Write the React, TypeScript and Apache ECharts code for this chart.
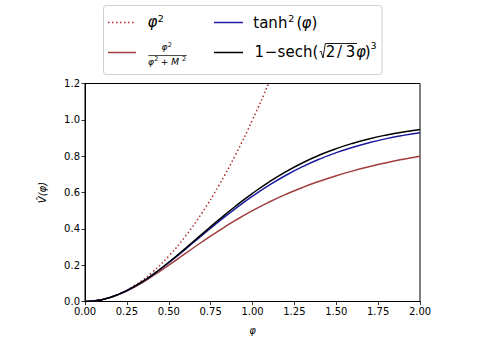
import React, { useEffect, useRef } from "react";
import * as echarts from "echarts";

const phi = [0, 0.1, 0.2, 0.3, 0.4, 0.5, 0.6, 0.7, 0.8, 0.9, 1.0, 1.1, 1.2, 1.3, 1.4, 1.5, 1.6, 1.7, 1.8, 1.9, 2.0];
const phiSquared = [0, 0.01, 0.04, 0.09, 0.16, 0.25, 0.36, 0.49, 0.64, 0.81, 1.0, 1.21, 1.44];
const fracSeries = [0, 0.0099, 0.0385, 0.0826, 0.1379, 0.2, 0.2647, 0.3289, 0.3902, 0.4475, 0.5, 0.5475, 0.5902, 0.6283, 0.6622, 0.6923, 0.7191, 0.7429, 0.7642, 0.7831, 0.8];
const tanhSeries = [0, 0.0099, 0.039, 0.0849, 0.1444, 0.2136, 0.2884, 0.3653, 0.441, 0.5131, 0.58, 0.6408, 0.695, 0.7426, 0.7839, 0.8193, 0.8495, 0.875, 0.8965, 0.9144, 0.9294];
const sechSeries = [0, 0.0099, 0.039, 0.0853, 0.1455, 0.216, 0.2928, 0.3721, 0.4507, 0.5258, 0.5956, 0.6589, 0.715, 0.764, 0.8061, 0.8417, 0.8715, 0.8963, 0.9166, 0.9332, 0.9465];
const xTicks = { min: 0, max: 2, interval: 0.25 };
const yTicks = { min: 0, max: 1.2, interval: 0.2 };

const FONT = "DejaVu Sans";
const RED = "#b22a2a";
const BROWN = "#a03c3c";
const BLUE = "#1a1aa0";
const BLACK = "#000000";

const pairs = (ys: number[]) => ys.map((y, i) => [phi[i], y]);

const txt = (text: string, x: number, y: number, size: number, italic = false, align = "left") => ({
  type: "text",
  x,
  y,
  z: 11,
  style: {
    text,
    font: `${italic ? "italic " : ""}${size}px "${FONT}"`,
    fill: "#000",
    align,
    verticalAlign: "middle",
  },
});

export default function App() {
  const ref = useRef<HTMLDivElement>(null);
  useEffect(() => {
    document.body.style.margin = "0";
    const chart = echarts.init(ref.current!, null, { renderer: "svg" });
    const axisCommon = {
      axisLine: { show: true, lineStyle: { color: "#000", width: 1 } },
      axisTick: { show: true, inside: false, length: 3.5, lineStyle: { color: "#000", width: 0.8 } },
      axisLabel: { color: "#000", fontFamily: FONT, fontSize: 10, margin: 5 },
      splitLine: { show: false },
    };
    chart.setOption({
      animation: false,
      backgroundColor: "#fff",
      grid: { left: 85, right: 58, top: 83.5, bottom: 42.5, show: true, borderColor: "#000", borderWidth: 1, backgroundColor: "transparent" },
      xAxis: {
        type: "value",
        ...xTicks,
        ...axisCommon,
        axisLabel: { ...axisCommon.axisLabel, formatter: (v: number) => v.toFixed(2) },
        name: "φ",
        nameLocation: "middle",
        nameGap: 24,
        nameTextStyle: { color: "#000", fontFamily: FONT, fontSize: 10, fontStyle: "italic" },
      },
      yAxis: {
        type: "value",
        ...yTicks,
        ...axisCommon,
        axisLabel: { ...axisCommon.axisLabel, formatter: (v: number) => v.toFixed(1) },
        name: "V\u0302(φ)",
        nameLocation: "middle",
        nameGap: 38,
        nameTextStyle: { color: "#000", fontFamily: FONT, fontSize: 10, fontStyle: "italic" },
      },
      series: [
        { type: "line", data: pairs(phiSquared), smooth: true, symbol: "none", clip: true, lineStyle: { color: RED, width: 1.5, type: [1.5, 2.5] } },
        { type: "line", data: pairs(fracSeries), smooth: true, symbol: "none", lineStyle: { color: BROWN, width: 1.5 } },
        { type: "line", data: pairs(tanhSeries), smooth: true, symbol: "none", lineStyle: { color: BLUE, width: 1.5 } },
        { type: "line", data: pairs(sechSeries), smooth: true, symbol: "none", lineStyle: { color: BLACK, width: 1.5 } },
      ],
      graphic: [
        { type: "rect", shape: { x: 103.5, y: 5.5, width: 278.5, height: 69, r: 3 }, style: { fill: "#fff", stroke: "#d0d0d0", lineWidth: 1 }, z: 10 },
        // row 1, col 1: phi^2
        { type: "line", shape: { x1: 108, y1: 22.5, x2: 136, y2: 22.5 }, style: { stroke: RED, lineWidth: 1.5, lineDash: [1.5, 2.5] }, z: 11 },
        txt("φ", 147.5, 21.5, 15, true),
        txt("2", 157.8, 18.5, 9.5),
        // row 2, col 1: fraction
        { type: "line", shape: { x1: 108, y1: 52.5, x2: 136, y2: 52.5 }, style: { stroke: BROWN, lineWidth: 1.5 }, z: 11 },
        txt("φ", 161.5, 47, 9, true),
        txt("2", 167.8, 45, 6.5),
        { type: "line", shape: { x1: 148.3, y1: 55.5, x2: 186.7, y2: 55.5 }, style: { stroke: "#000", lineWidth: 0.7 }, z: 11 },
        txt("φ", 148, 61.5, 9, true),
        txt("2", 154.3, 59.2, 6.5),
        txt("+", 164.5, 61.5, 9, false, "center"),
        txt("M", 171.3, 61.5, 9, true),
        txt("2", 182, 59.2, 6.5),
        // row 1, col 2: tanh^2
        { type: "line", shape: { x1: 214, y1: 22.5, x2: 243, y2: 22.5 }, style: { stroke: BLUE, lineWidth: 1.5 }, z: 11 },
        txt("tanh", 253.3, 22.5, 15),
        txt("2", 288.3, 18.5, 9.5),
        txt("(", 296.5, 22.5, 15),
        txt("φ", 301.5, 22.5, 15, true),
        txt(")", 311.5, 22.5, 15),
        // row 2, col 2: 1 - sech(...)^3
        { type: "line", shape: { x1: 214, y1: 52.5, x2: 243, y2: 52.5 }, style: { stroke: BLACK, lineWidth: 1.5 }, z: 11 },
        txt("1", 254.5, 52.3, 15),
        txt("−", 271, 52.3, 15, false, "center"),
        txt("sech(", 277.6, 52.3, 15),
        { type: "polyline", shape: { points: [[319.5, 52], [321, 51.2], [323, 58], [325.3, 43.5], [357, 43.5]] }, style: { stroke: "#000", lineWidth: 0.9, fill: null }, z: 11 },
        txt("2", 325.8, 52.3, 15),
        txt("/", 339.5, 52.3, 15, false, "center"),
        txt("3", 345.8, 52.3, 15),
        txt("φ", 356, 52.3, 15, true),
        txt(")", 364.8, 52.3, 15),
        txt("3", 370.5, 45, 9.5),
      ],
    });
    return () => chart.dispose();
  }, []);
  return <div ref={ref} style={{ width: 478, height: 344 }} />;
}
